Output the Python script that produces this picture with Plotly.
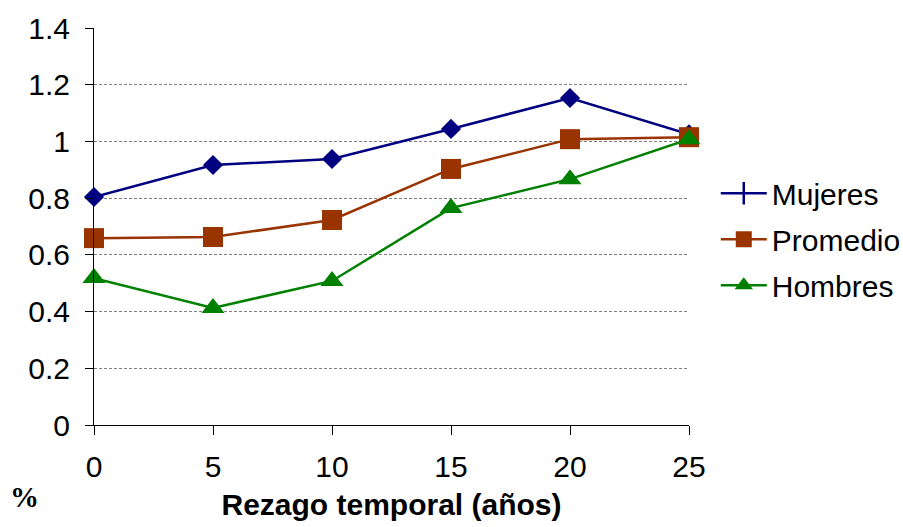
import plotly.graph_objects as go

# Rezago temporal (años)
rezago = [0, 5, 10, 15, 20, 25]

mujeres = [0.804, 0.917, 0.938, 1.044, 1.153, 1.025]
promedio = [0.659, 0.663, 0.723, 0.903, 1.008, 1.015]
hombres = [0.518, 0.413, 0.508, 0.765, 0.867, 1.008]

y_ticks = [0, 0.2, 0.4, 0.6, 0.8, 1, 1.2, 1.4]
y_tick_text = ["0", "0.2", "0.4", "0.6", "0.8", "1", "1.2", "1.4"]

FONT = "Arial, 'Liberation Sans', sans-serif"
NAVY = "#000080"
RUST = "#993300"
GREEN = "#008000"
FS = 30

fig = go.Figure()

# Mujeres: diamonds on the plot, a plain cross in the legend
fig.add_trace(go.Scatter(
    x=rezago, y=mujeres, mode="lines+markers", name="Mujeres",
    line=dict(color=NAVY, width=2.5),
    marker=dict(symbol="diamond", size=15.5, color=NAVY),
    cliponaxis=False, showlegend=False, legendgroup="m",
))
fig.add_trace(go.Scatter(
    x=[None], y=[None], mode="lines+markers", name="Mujeres",
    line=dict(color=NAVY, width=2.5),
    marker=dict(symbol="line-ns-open", size=18, color=NAVY,
                line=dict(color=NAVY, width=2.5)),
    legendgroup="m",
))
fig.add_trace(go.Scatter(
    x=rezago, y=promedio, mode="lines+markers", name="Promedio",
    line=dict(color=RUST, width=2.5),
    marker=dict(symbol="square", size=20, color=RUST),
    cliponaxis=False, legendgroup="p",
))
fig.add_trace(go.Scatter(
    x=rezago, y=hombres, mode="lines+markers", name="Hombres",
    line=dict(color=GREEN, width=2.5),
    marker=dict(symbol="triangle-up", size=20, color=GREEN),
    cliponaxis=False, legendgroup="h",
))

fig.update_layout(
    width=903, height=527,
    margin=dict(l=94, r=214, t=28, b=102, autoexpand=False),
    paper_bgcolor="white", plot_bgcolor="white",
    font=dict(family=FONT, size=FS, color="black"),
    showlegend=True,
    legend=dict(
        x=1.045, y=0.468, xanchor="left", yanchor="middle",
        font=dict(family=FONT, size=FS, color="black"),
        traceorder="grouped", tracegroupgap=4, itemwidth=46,
        bgcolor="rgba(0,0,0,0)",
    ),
    xaxis=dict(
        range=[0, 25], tickvals=rezago, ticktext=[str(v) for v in rezago],
        showline=True, linecolor="black", linewidth=1,
        ticks="outside", ticklen=9, tickcolor="black",
        showgrid=False, zeroline=False,
        ticklabelstandoff=6,
        title=dict(text="<b>Rezago temporal (años)</b>",
                   font=dict(family=FONT, size=FS), standoff=11),
    ),
    yaxis=dict(
        range=[0, 1.4], tickvals=y_ticks, ticktext=y_tick_text,
        showline=True, linecolor="black", linewidth=1,
        ticks="outside", ticklen=8, tickcolor="black",
        showgrid=True, gridcolor="#808080", gridwidth=1, griddash="3px,2px",
        zeroline=False, ticklabelstandoff=9,
    ),
    annotations=[dict(
        text="<b>%</b>", xref="paper", yref="paper",
        x=-0.1176, y=-0.181, xanchor="center", yanchor="middle",
        showarrow=False,
        font=dict(family="Liberation Serif, Times New Roman, serif", size=29),
    )],
)

fig.write_html("out.html")
